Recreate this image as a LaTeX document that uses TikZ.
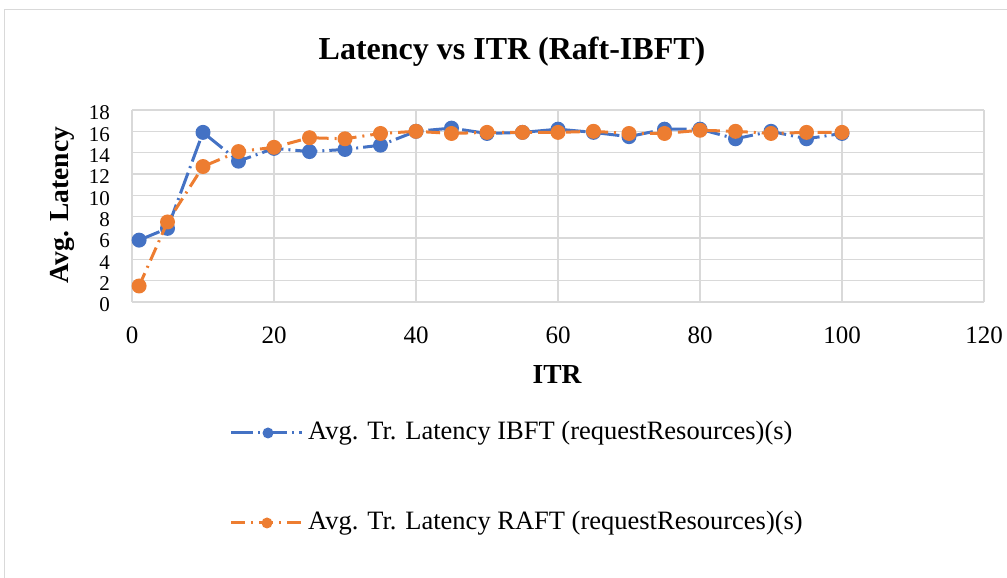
\documentclass[tikz,border=0pt]{standalone}
\usepackage{fontspec}
\setmainfont{Liberation Serif}
\definecolor{ibftblue}{HTML}{4472C4}
\definecolor{raftorange}{HTML}{ED7D31}
\definecolor{gridgray}{HTML}{D9D9D9}

\begin{document}
\begin{tikzpicture}[x=1pt, y=1pt,
	gridline/.style = {draw=gridgray, line width=1.3pt},
	ticklabel/.style = {font=\fontsize{25}{26}\selectfont, inner sep=0pt},
	yticklabel/.style = {font=\fontsize{21}{22}\selectfont, inner sep=0pt, anchor=east},
	axistitle/.style = {font=\fontsize{27.5}{29}\selectfont\bfseries, inner sep=0pt},
	legendtext/.style = {font=\fontsize{26.5}{28}\selectfont, anchor=west, inner sep=0pt},
	ibftline/.style = {draw=ibftblue, line width=3pt, dash pattern=on 22pt off 5pt on 2pt off 5pt},
	raftline/.style = {draw=raftorange, line width=3pt, dash pattern=on 14pt off 6pt on 2pt off 6pt},
	ibftdot/.style = {circle, fill=ibftblue, inner sep=0pt, minimum size=15pt},
	raftdot/.style = {circle, fill=raftorange, inner sep=0pt, minimum size=15pt}]

	\useasboundingbox (0,0) rectangle (1007,578);
	\draw[draw=gridgray, line width=1pt] (4,-5) rectangle (1015,568);

	% title
	\node[font=\fontsize{32}{34}\selectfont\bfseries] (title) at (512,526) {Latency vs ITR (Raft-IBFT)};

	\begin{scope}[shift={(132,276)}, x=7.1pt, y=10.667pt]
		% grid
		\foreach \y in {0,2,...,18}
			\draw[gridline] (0,\y) -- (120,\y);
		\foreach \x in {0,20,...,120}
			\draw[gridline] (\x,0) -- (\x,18);
		\foreach \y in {0,2,...,18}
			\node[yticklabel] (yl\y) at ([xshift=-22pt,yshift=-3pt]0,\y) {\y};
		\foreach \x in {0,20,...,120}
			\node[ticklabel] (xl\x) at ([yshift=-33pt]\x,0) {\x};

		% IBFT series
		\foreach \x/\y in {1/5.8, 5/6.9, 10/15.9, 15/13.2, 20/14.4, 25/14.1, 30/14.3,
				35/14.7, 40/16.0, 45/16.3, 50/15.8, 55/15.9, 60/16.2, 65/15.9, 70/15.5,
				75/16.2, 80/16.2, 85/15.3, 90/16.0, 95/15.3, 100/15.8}
			\coordinate (b\x) at (\x,\y);
		\draw[ibftline] (b1) \foreach \x in {5,10,...,100} {-- (b\x)};
		\foreach \x in {1,5,10,...,100}
			\node[ibftdot] (bm\x) at (b\x) {};

		% RAFT series
		\foreach \x/\y in {1/1.5, 5/7.5, 10/12.7, 15/14.1, 20/14.5, 25/15.4, 30/15.3,
				35/15.8, 40/16.0, 45/15.8, 50/15.9, 55/15.9, 60/15.9, 65/16.0, 70/15.8,
				75/15.8, 80/16.1, 85/16.0, 90/15.8, 95/15.9, 100/15.9}
			\coordinate (r\x) at (\x,\y);
		\draw[raftline] (r1) \foreach \x in {5,10,...,100} {-- (r\x)};
		\foreach \x in {1,5,10,...,100}
			\node[raftdot] (rm\x) at (r\x) {};
	\end{scope}

	% axis titles
	\node[axistitle, rotate=90] (ytitle) at (62,373) {Avg. Latency};
	\node[axistitle] (xtitle) at (557,203) {ITR};

	% legend
	\coordinate (ibfta) at (231,145);
	\coordinate (ibftb) at (302,145);
	\draw[ibftline] (ibfta) -- (ibftb);
	\node[ibftdot, minimum size=11pt] (ibftkey) at (268,145) {};
	\node[legendtext] (ibftlab) at (308,145) {Avg. Tr. Latency IBFT (requestResources)(s)};

	\coordinate (rafta) at (231,55);
	\coordinate (raftb) at (302,55);
	\draw[raftline] (rafta) -- (raftb);
	\node[raftdot, minimum size=11pt] (raftkey) at (267,55) {};
	\node[legendtext] (raftlab) at (308,55) {Avg. Tr. Latency RAFT (requestResources)(s)};
\end{tikzpicture}
\end{document}
